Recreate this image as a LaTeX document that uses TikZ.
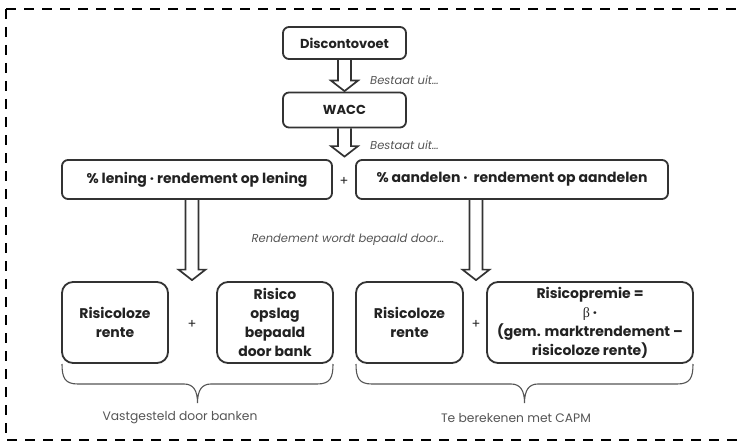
\documentclass[tikz,border=0pt]{standalone}
\usepackage{fontspec}
\setmainfont{Poppins}
\newfontfamily\grk{Liberation Serif}
\usetikzlibrary{calc}
\definecolor{linec}{HTML}{333333}
\definecolor{txtc}{HTML}{222222}
\definecolor{grayc}{HTML}{555555}
\tikzset{
  boxa/.style={draw=linec, line width=1.8pt, rounded corners=6pt, text=txtc, font=\fontsize{13}{15}\selectfont\bfseries, align=center, inner sep=0pt},
  boxb/.style={draw=linec, line width=1.8pt, rounded corners=11pt, text=txtc, font=\fontsize{14}{19}\selectfont\bfseries, align=center, inner sep=0pt, minimum height=81pt},
  note/.style={text=grayc, font=\fontsize{11.5}{13}\selectfont\itshape, inner sep=0pt},
  bracelbl/.style={text=grayc, font=\fontsize{12.3}{14}\selectfont, inner sep=0pt},
  plusc/.style={text=txtc, font=\fontsize{13}{14}\selectfont, inner sep=0pt},
  bracec/.style={draw=grayc, line width=1.1pt},
  blockarr/.style={draw=linec, line width=1.7pt, line join=miter,
    to path={let \p1=(\tikztostart), \p2=(\tikztotarget) in
      (\x1-6.5pt,\y1) -- (\x1-6.5pt,\y2+10.5pt) -- (\x1-13.5pt,\y2+10.5pt) -- (\x1,\y2)
      -- (\x1+13.5pt,\y2+10.5pt) -- (\x1+6.5pt,\y2+10.5pt) -- (\x1+6.5pt,\y1)}},
  frame/.style={draw=black, line width=2.4pt, dash pattern=on 10pt off 8pt}
}
\begin{document}
\begin{tikzpicture}[x=1pt,y=-1pt]
\useasboundingbox (0,0) rectangle (738,441);
% frame
\draw[frame] (6,9) -- (745,9);
\draw[frame] (6,9) -- (6,440) -- (745,440);
% top nodes
\node[boxa, minimum width=123pt, minimum height=32pt] (disc) at (344.5,43) {Discontovoet};
\node[boxa, minimum width=123pt, minimum height=35pt] (wacc) at (344.5,110) {WACC};
\node[boxa, minimum width=270pt, minimum height=39pt, font=\fontsize{14}{16}\selectfont\bfseries] (lening) at (197,179.5) {\% lening · rendement op lening};
\node[boxa, minimum width=312pt, minimum height=39pt, font=\fontsize{14}{16}\selectfont\bfseries] (aand) at (512,179.5) {\% aandelen ·\ \ rendement op aandelen};
\node[plusc] (plus0) at (344,181) {+};
% bottom nodes
\node[boxb, minimum width=106pt] (boxA) at (115,322.5) {Risicoloze\\rente};
\node[boxb, minimum width=116pt] (boxB) at (275,322.5) {Risico\\opslag\\bepaald\\door bank};
\node[boxb, minimum width=107pt] (boxC) at (409.5,322.5) {Risicoloze\\rente};
\node[boxb, minimum width=206pt] (boxD) at (590,322.5) {Risicopremie =\\{\grk\mdseries β} ·\\(gem. marktrendement –\\risicoloze rente)};
\node[plusc] (plusA) at (192,324) {+};
\node[plusc] (plusB) at (476,324) {+};
% arrows
\coordinate (t1) at ($(wacc.north)+(0,-0.5)$);
\coordinate (t2) at ($(wacc.south |- lening.north)+(0,-2.5)$);
\coordinate (t3) at ($(plusA |- boxA.north)+(0,-1)$);
\coordinate (t4) at ($(plusB |- boxC.north)+(0,-1)$);
\draw[blockarr] (disc.south) to (t1);
\draw[blockarr] (wacc.south) to (t2);
\draw[blockarr] (lening.south -| plusA) to (t3);
\draw[blockarr] (aand.south -| plusB) to (t4);
% notes
\node[note, anchor=west] (n1) at (370,80) {Bestaat uit…};
\node[note, anchor=west] (n2) at (370,145) {Bestaat uit…};
\node[note] (n3) at (348,240) {Rendement wordt bepaald door…};
% braces
\draw[bracec] (62,364) .. controls (62,378) and (65,384) .. (78,384) -- (184,384)
  .. controls (193,384) and (197.5,390) .. (197.5,403)
  .. controls (197.5,390) and (202,384) .. (211,384) -- (317,384)
  .. controls (330,384) and (333,378) .. (333,364);
\draw[bracec] (356,364) .. controls (356,378) and (359,384) .. (372,384) -- (511,384)
  .. controls (520,384) and (524.5,390) .. (524.5,403)
  .. controls (524.5,390) and (529,384) .. (538,384) -- (677,384)
  .. controls (690,384) and (693,378) .. (693,364);
\node[bracelbl] (l1) at (180,418) {Vastgesteld door banken};
\node[bracelbl] (l2) at (516,418) {Te berekenen met CAPM};
\end{tikzpicture}
\end{document}
